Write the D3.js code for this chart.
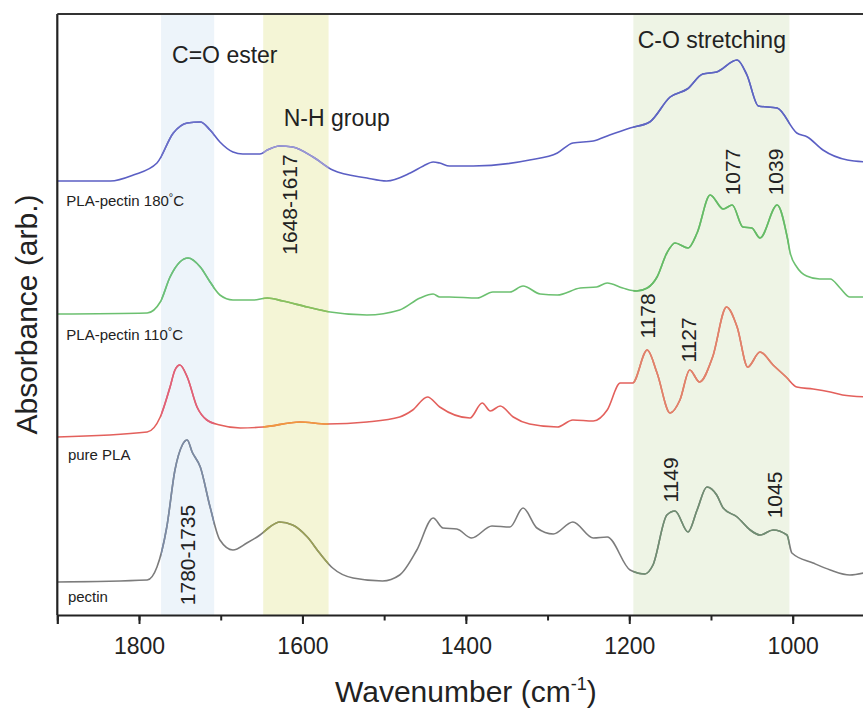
<!DOCTYPE html>
<html>
<head>
<meta charset="utf-8">
<script src="https://cdn.jsdelivr.net/npm/d3@7/dist/d3.min.js"></script>
<style>
  body { margin: 0; background: #fff; }
  text { font-family: "Liberation Sans", Arial, Helvetica, sans-serif; fill: #222; }
</style>
</head>
<body>
<div id="chart"></div>
<script>
// 1: DATA  (wavenumber cm-1, absorbance arb. with stacking offset)
const pla180 = [
  [1900, 4.34], [1835, 4.34], [1807, 4.40], [1778, 4.52], [1758, 4.82], [1741, 4.92],
  [1725, 4.93], [1713, 4.85], [1701, 4.73], [1685, 4.63], [1673, 4.61], [1652, 4.61],
  [1643, 4.65], [1628, 4.69], [1612, 4.68], [1587, 4.58], [1563, 4.45], [1521, 4.37],
  [1497, 4.34], [1468, 4.42], [1452, 4.49], [1440, 4.53], [1432, 4.52], [1420, 4.49],
  [1391, 4.49], [1322, 4.55], [1288, 4.62], [1269, 4.72], [1244, 4.74], [1224, 4.80],
  [1199, 4.87], [1175, 4.93], [1150, 5.18], [1129, 5.26], [1110, 5.41], [1093, 5.43],
  [1068, 5.55], [1056, 5.40], [1042, 5.09], [1019, 5.07], [995, 4.82], [982, 4.78],
  [963, 4.65], [933, 4.55], [908, 4.53]
];
const pla110 = [
  [1900, 3.01], [1790, 3.02], [1774, 3.13], [1762, 3.38], [1750, 3.53], [1740, 3.57],
  [1725, 3.48], [1713, 3.33], [1701, 3.20], [1685, 3.15], [1660, 3.15], [1643, 3.17],
  [1624, 3.14], [1594, 3.08], [1566, 3.03], [1521, 3.00], [1481, 3.05], [1456, 3.17],
  [1440, 3.21], [1432, 3.18], [1420, 3.18], [1386, 3.17], [1367, 3.23], [1346, 3.23],
  [1330, 3.29], [1309, 3.21], [1288, 3.20], [1260, 3.27], [1240, 3.28], [1227, 3.32],
  [1208, 3.27], [1191, 3.24], [1178, 3.27], [1166, 3.38], [1154, 3.62], [1144, 3.72],
  [1128, 3.67], [1117, 3.82], [1101, 4.20], [1085, 4.06], [1074, 4.10], [1061, 3.88],
  [1050, 3.87], [1040, 3.77], [1019, 4.10], [1006, 3.75], [1003, 3.62], [995, 3.48],
  [983, 3.39], [967, 3.36], [954, 3.36], [942, 3.27], [930, 3.18], [908, 3.18]
];
const purePLA = [
  [1900, 1.78], [1790, 1.83], [1774, 1.98], [1762, 2.28], [1756, 2.45], [1750, 2.50],
  [1741, 2.38], [1729, 2.08], [1717, 1.95], [1701, 1.90], [1676, 1.87], [1648, 1.88],
  [1603, 1.93], [1570, 1.91], [1521, 1.93], [1481, 1.98], [1465, 2.05], [1447, 2.18],
  [1432, 2.08], [1395, 1.97], [1380, 2.12], [1370, 2.04], [1358, 2.09], [1342, 1.98],
  [1322, 1.91], [1288, 1.88], [1269, 1.95], [1244, 1.94], [1227, 2.05], [1211, 2.32],
  [1196, 2.32], [1178, 2.65], [1166, 2.42], [1150, 2.02], [1138, 2.15], [1126, 2.45],
  [1114, 2.33], [1098, 2.58], [1081, 3.08], [1068, 2.88], [1055, 2.48], [1040, 2.63],
  [1024, 2.50], [1008, 2.38], [995, 2.28], [975, 2.26], [954, 2.23], [939, 2.20], [908, 2.18]
];
const pectin = [
  [1900, 0.33], [1790, 0.35], [1778, 0.48], [1766, 0.88], [1756, 1.45], [1747, 1.70],
  [1741, 1.75], [1735, 1.63], [1725, 1.48], [1713, 1.08], [1701, 0.75], [1685, 0.65],
  [1668, 0.72], [1652, 0.80], [1640, 0.88], [1628, 0.93], [1612, 0.90], [1594, 0.78],
  [1579, 0.62], [1563, 0.47], [1538, 0.37], [1502, 0.34], [1481, 0.40], [1460, 0.65],
  [1440, 0.97], [1428, 0.87], [1411, 0.86], [1393, 0.77], [1368, 0.89], [1346, 0.88],
  [1330, 1.07], [1313, 0.87], [1293, 0.81], [1269, 0.93], [1244, 0.77], [1227, 0.78],
  [1199, 0.45], [1181, 0.41], [1171, 0.50], [1154, 1.00], [1144, 1.04], [1128, 0.83],
  [1117, 1.05], [1105, 1.28], [1093, 1.20], [1085, 1.07], [1068, 0.98], [1052, 0.85],
  [1040, 0.80], [1024, 0.85], [1007, 0.80], [1001, 0.62], [975, 0.52], [954, 0.45],
  [930, 0.40], [908, 0.43]
];

const seriesNames = ["PLA-pectin 180", "PLA-pectin 110", "pure PLA", "pectin"];
const seriesData = [pla180, pla110, purePLA, pectin];
const seriesDegree = [true, true, false, false];
// label anchor [wavenumber, value]
const seriesLabelPos = [[1889, 4.09], [1889, 2.75], [1887, 1.55], [1887, 0.13]];

// shaded bands [from, to] in cm-1
const bandNames = ["C=O ester", "N-H group", "C-O stretching"];
const bandRanges = [[1773, 1708], [1648, 1568], [1195, 1004]];
const bandLabelPos = [[1695, 5.52], [1558, 4.89], [1099, 5.67]];

// rotated peak annotations
const peakLabels = ["1648-1617", "1780-1735", "1077", "1039", "1178", "1127", "1149", "1045"];
const peakPos = [[1607, 4.105], [1731, 0.60], [1064, 4.43], [1012, 4.43],
                 [1168, 2.99], [1118, 2.75], [1140, 1.35], [1013, 1.20]];

const majorTicks = [1800, 1600, 1400, 1200, 1000];
const minorTicks = d3.range(1900, 899, -100);

// 2: STYLES
const lineColors = ["#5b5fc4", "#6cc070", "#e3605c", "#7c7c7c"];
const bandFills = ["#edf4fa", "#f4f5d6", "#eef4e5"];
// curve colour where it crosses each band (index: band, series)
const bandTints = [
  ["#6a6fc8", "#6cbf7c", "#e0607a", "#7b8ba6"],
  ["#9a97d4", "#8cbf5c", "#f09a3c", "#9aa055"],
  ["#5e66c2", "#66bb66", "#e0846a", "#708f72"]
];

const margin = { top: 14, left: 57.3 };
const width = 817.1;
const height = 601;

const svg = d3.select("#chart").append("svg")
  .attr("width", 863).attr("height", 712)
  .style("display", "block");

const g = svg.append("g").attr("transform", `translate(${margin.left},${margin.top})`);

const x = d3.scaleLinear().domain([1900, 900]).range([0, width]);
const y = d3.scaleLinear().domain([0, 6.01]).range([height, 0]);

const line = d3.line()
  .x(d => x(d[0]))
  .y(d => y(d[1]))
  .curve(d3.curveMonotoneX);

// bands
g.selectAll(".band").data(bandRanges).enter().append("rect")
  .attr("class", "band")
  .attr("x", d => x(d[0]))
  .attr("width", d => x(d[1]) - x(d[0]))
  .attr("y", 0).attr("height", height)
  .attr("fill", (d, i) => bandFills[i]);

const defs = svg.append("defs");
bandRanges.forEach((b, i) => {
  defs.append("clipPath").attr("id", "clipBand" + i)
    .append("rect")
    .attr("x", x(b[0])).attr("width", x(b[1]) - x(b[0]))
    .attr("y", 0).attr("height", height);
});

// spectra
seriesData.forEach((s, i) => {
  g.append("path").datum(s)
    .attr("fill", "none")
    .attr("stroke", lineColors[i])
    .attr("stroke-width", 1.6)
    .attr("d", line);
  bandRanges.forEach((b, j) => {
    g.append("path").datum(s)
      .attr("clip-path", `url(#clipBand${j})`)
      .attr("fill", "none")
      .attr("stroke", bandTints[j][i])
      .attr("stroke-width", 1.6)
      .attr("d", line);
  });
});

// axes
const minorAxis = g.append("g")
  .attr("transform", `translate(0,${height})`)
  .call(d3.axisBottom(x).tickValues(minorTicks).tickSize(5.5).tickFormat(""));
const majorAxis = g.append("g")
  .attr("transform", `translate(0,${height})`)
  .call(d3.axisBottom(x).tickValues(majorTicks).tickSize(9).tickPadding(14).tickFormat(d3.format("d")));
minorAxis.select(".domain").remove();
[minorAxis, majorAxis].forEach(a => {
  a.selectAll("line").attr("stroke", "#222").attr("stroke-width", 2);
  a.select(".domain").attr("stroke", "#222").attr("stroke-width", 2.2);
});
majorAxis.selectAll("text")
  .style("font-size", "23px")
  .attr("fill", "#222");

// left and top spines
g.append("line").attr("x1", 0).attr("x2", 0).attr("y1", 0).attr("y2", height)
  .attr("stroke", "#222").attr("stroke-width", 2.2);
g.append("line").attr("x1", 0).attr("x2", width).attr("y1", 0).attr("y2", 0)
  .attr("stroke", "#333").attr("stroke-width", 2.2);

// band titles
g.selectAll(".bandLabel").data(bandNames).enter().append("text")
  .attr("class", "bandLabel")
  .attr("x", (d, i) => x(bandLabelPos[i][0]))
  .attr("y", (d, i) => y(bandLabelPos[i][1]))
  .attr("text-anchor", "middle")
  .style("font-size", "23px")
  .text(d => d);

// peak annotations
g.selectAll(".peak").data(peakLabels).enter().append("text")
  .attr("class", "peak")
  .attr("transform", (d, i) => `translate(${x(peakPos[i][0])},${y(peakPos[i][1])}) rotate(-90)`)
  .attr("text-anchor", "middle")
  .style("font-size", "21px")
  .text(d => d);

// series labels
seriesNames.forEach((name, i) => {
  const t = g.append("text")
    .attr("x", x(seriesLabelPos[i][0]))
    .attr("y", y(seriesLabelPos[i][1]))
    .style("font-size", "15px")
    .attr("fill", "#333")
    .text(name);
  if (seriesDegree[i]) {
    t.append("tspan").attr("dy", -5).style("font-size", "11px").text("°");
    t.append("tspan").attr("dy", 5).text("C");
  }
});

// axis titles
svg.append("text")
  .attr("x", margin.left + width / 2)
  .attr("y", 702)
  .attr("text-anchor", "middle")
  .style("font-size", "30px")
  .call(t => {
    t.append("tspan").text("Wavenumber (cm");
    t.append("tspan").attr("dy", -12).style("font-size", "18px").text("-1");
    t.append("tspan").attr("dy", 12).text(")");
  });

svg.append("text")
  .attr("transform", `translate(37,${margin.top + height / 2}) rotate(-90)`)
  .attr("text-anchor", "middle")
  .style("font-size", "30px")
  .text("Absorbance (arb.)");
</script>
</body>
</html>
